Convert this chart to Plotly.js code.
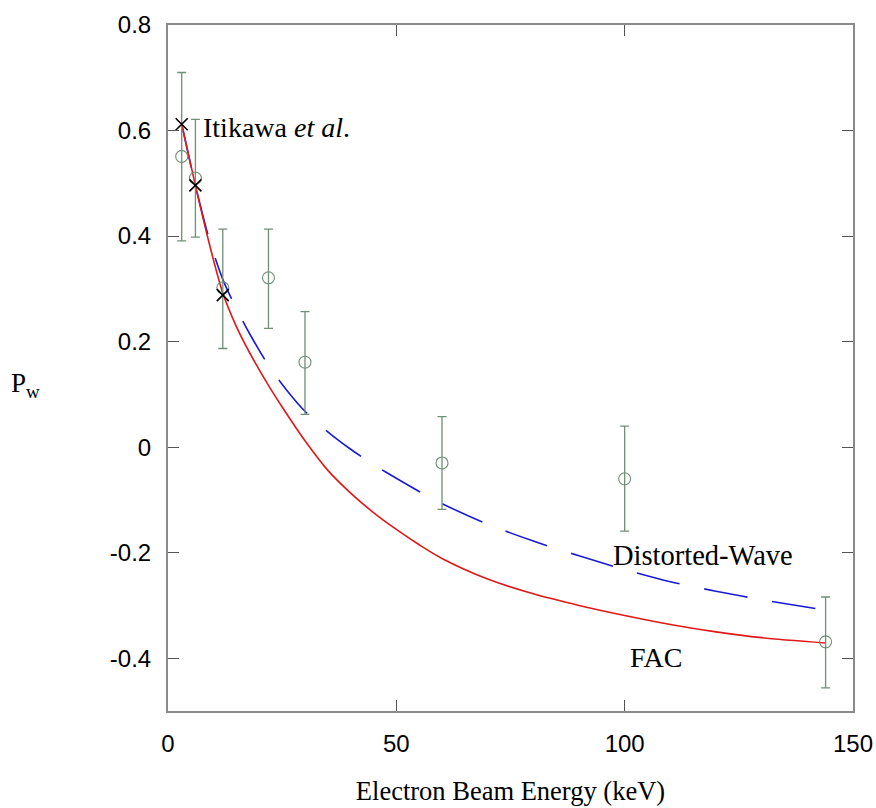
<!DOCTYPE html>
<html>
<head>
<meta charset="utf-8">
<script src="https://cdn.plot.ly/plotly-3.0.1.min.js"></script>
<style>html,body{margin:0;padding:0;background:#fff;}#chart{width:876px;height:808px;}</style>
</head>
<body>
<div id="chart"></div>
<script>
// Measured data (Electron beam energy in keV, polarization P_w)
const expEnergy = [3, 6, 12, 22, 30, 60, 100, 144];
const expPw = [0.551, 0.510, 0.302, 0.321, 0.161, -0.030, -0.060, -0.369];
const expErrPlus = [0.159, 0.111, 0.111, 0.092, 0.096, 0.088, 0.100, 0.085];
const expErrMinus = [0.160, 0.112, 0.115, 0.096, 0.099, 0.088, 0.099, 0.087];

// Itikawa et al.
const itikawaEnergy = [3, 6, 12];
const itikawaPw = [0.612, 0.496, 0.288];

// FAC calculation
const facEnergy = [3, 6, 9, 12, 15, 18, 22, 25, 30, 35, 40, 45, 50, 55, 60, 70, 80, 90, 100, 110, 120, 130, 144];
const facPw = [0.612, 0.496, 0.387, 0.292, 0.228, 0.177, 0.117, 0.076, 0.012, -0.044, -0.087, -0.124, -0.156, -0.185, -0.211, -0.250, -0.278, -0.300, -0.319, -0.336, -0.350, -0.361, -0.371];

// Distorted-wave calculation
const dwEnergy = [3, 6, 9, 12, 15, 18, 22, 26, 30, 35, 40, 45, 50, 55, 60, 70, 80, 90, 100, 110, 120, 130, 144];
const dwPw = [0.612, 0.496, 0.395, 0.318, 0.262, 0.213, 0.155, 0.108, 0.068, 0.029, -0.004, -0.033, -0.059, -0.084, -0.107, -0.146, -0.178, -0.206, -0.232, -0.255, -0.273, -0.289, -0.309];

// Tick labels
const xTickVals = [0, 50, 100, 150];
const xTickText = ['0', '50', '100', '150'];
const yTickVals = [-0.4, -0.2, 0, 0.2, 0.4, 0.6, 0.8];
const yTickText = ['-0.4', '-0.2', '0', '0.2', '0.4', '0.6', '0.8'];

const serif = 'Liberation Serif, Times New Roman, serif';
const sans = 'Liberation Sans, Arial, Helvetica, sans-serif';
const errColor = '#6f8f76';

const traces = [
  {
    x: dwEnergy, y: dwPw, type: 'scatter', mode: 'lines',
    line: {color: '#1a1ad6', width: 1.6, dash: '44px,25px', shape: 'spline', smoothing: 0.8},
    hoverinfo: 'skip'
  },
  {
    x: facEnergy, y: facPw, type: 'scatter', mode: 'lines',
    line: {color: '#e01818', width: 1.6, shape: 'spline', smoothing: 0.8},
    hoverinfo: 'skip'
  },
  {
    x: expEnergy, y: expPw, type: 'scatter', mode: 'markers',
    marker: {symbol: 'circle-open', size: 12, color: errColor, line: {width: 1.1, color: errColor}},
    error_y: {type: 'data', symmetric: false, array: expErrPlus, arrayminus: expErrMinus,
              color: errColor, thickness: 1.3, width: 4.5}
  },
  {
    x: itikawaEnergy, y: itikawaPw, type: 'scatter', mode: 'markers',
    marker: {symbol: 'x-thin-open', size: 12, color: '#000', line: {width: 1.6, color: '#000'}}
  }
];

const layout = {
  width: 876, height: 808,
  margin: {l: 168, r: 23, t: 25, b: 97},
  paper_bgcolor: '#fff', plot_bgcolor: '#fff',
  showlegend: false,
  xaxis: {
    range: [0, 150], tickvals: xTickVals, ticktext: xTickText,
    ticks: 'inside', ticklen: 11, tickwidth: 1, tickcolor: '#555',
    showline: true, linecolor: '#8a8a8a', linewidth: 2, mirror: 'ticks',
    showgrid: false, zeroline: false,
    tickfont: {family: sans, size: 24, color: '#000'},
    ticklabelstandoff: 10,
    title: {text: 'Electron Beam Energy (keV)', font: {family: serif, size: 26.5, color: '#000'}, standoff: 26}
  },
  yaxis: {
    range: [-0.5, 0.8], tickvals: yTickVals, ticktext: yTickText,
    ticks: 'inside', ticklen: 11, tickwidth: 1, tickcolor: '#555',
    showline: true, linecolor: '#8a8a8a', linewidth: 2, mirror: 'ticks',
    showgrid: false, zeroline: false,
    tickfont: {family: sans, size: 24, color: '#000'},
    ticklabelstandoff: 10
  },
  annotations: [
    {x: 7.2, y: 0.606, xref: 'x', yref: 'y', xanchor: 'left', yanchor: 'middle', showarrow: false,
     text: 'Itikawa <i>et al</i>.', font: {family: serif, size: 28, color: '#000'}},
    {x: 97.0, y: -0.205, xref: 'x', yref: 'y', xanchor: 'left', yanchor: 'middle', showarrow: false,
     text: 'Distorted-Wave', font: {family: serif, size: 28.5, color: '#000'}},
    {x: 100.8, y: -0.398, xref: 'x', yref: 'y', xanchor: 'left', yanchor: 'middle', showarrow: false,
     text: 'FAC', font: {family: serif, size: 28, color: '#000'}},
    {x: -0.232, y: 0.475, xref: 'paper', yref: 'paper', xanchor: 'left', yanchor: 'middle', showarrow: false,
     text: 'P<sub>w</sub>', font: {family: serif, size: 27, color: '#000'}}
  ]
};

Plotly.newPlot('chart', traces, layout, {displayModeBar: false, staticPlot: true});
</script>
</body>
</html>
